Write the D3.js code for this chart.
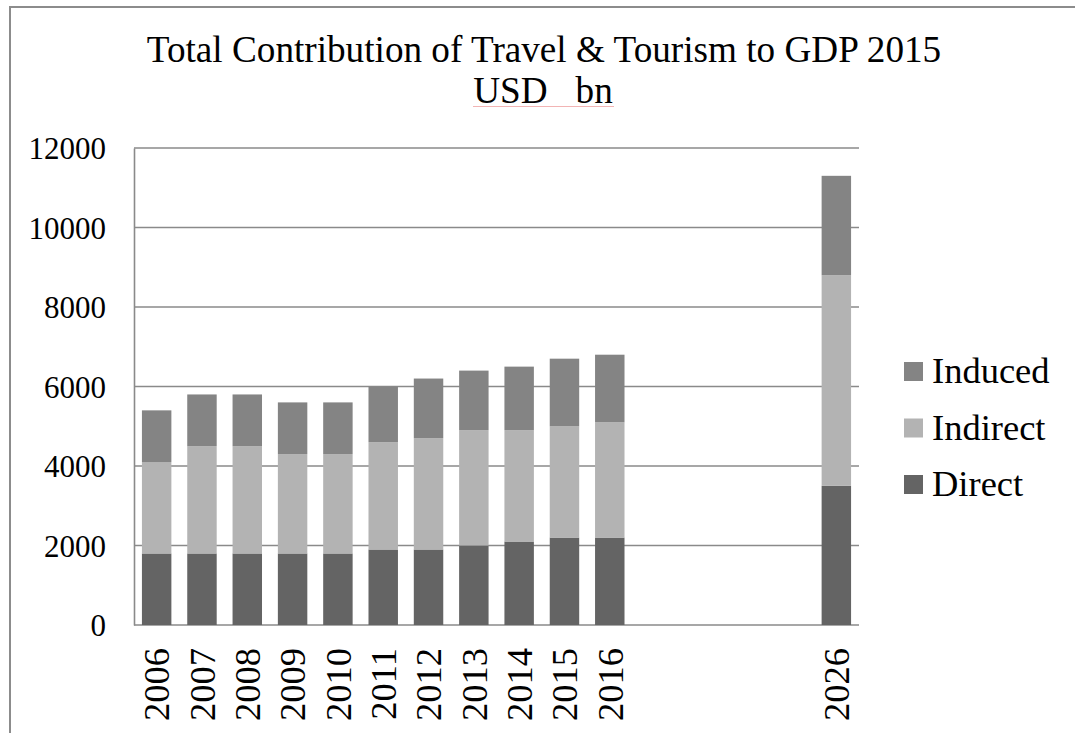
<!DOCTYPE html>
<html>
<head>
<meta charset="utf-8">
<script src="https://cdn.jsdelivr.net/npm/d3@7"></script>
<style>
  html, body { margin: 0; padding: 0; background: #fff; overflow: hidden; }
  svg { display: block; }
  svg text { font-family: "Liberation Serif"; }
</style>
</head>
<body>
<svg id="chart" width="1075" height="733"></svg>
<script>
// Travel & Tourism contribution to GDP, USD bn
const categories = ["2006", "2007", "2008", "2009", "2010", "2011", "2012", "2013", "2014", "2015", "2016", "2026"];
const direct   = [1800, 1800, 1800, 1800, 1800, 1900, 1900, 2000, 2100, 2200, 2200, 3500];
const indirect = [2300, 2700, 2700, 2500, 2500, 2700, 2800, 2900, 2800, 2800, 2900, 5300];
const induced  = [1300, 1300, 1300, 1300, 1300, 1400, 1500, 1500, 1600, 1700, 1700, 2500];
const seriesNames = ["Direct", "Indirect", "Induced"];
const seriesColors = ["#646464", "#b3b3b3", "#848484"];
const yTicks = [0, 2000, 4000, 6000, 8000, 10000, 12000];

const FONT = '"Liberation Serif"';

// empty slots between the historical years and the forecast year
const slots = categories.slice(0, 11).concat(["gap1", "gap2", "gap3", "gap4"], categories.slice(11));

const rows = categories.map((c, i) => ({ cat: c, Direct: direct[i], Indirect: indirect[i], Induced: induced[i] }));
const stacked = d3.stack().keys(seriesNames)(rows);

const svg = d3.select("#chart");
const plot = { left: 134, right: 859, top: 148, bottom: 625 };

const x = d3.scaleBand().domain(slots).range([plot.left, plot.right]).paddingInner(0.35).paddingOuter(0.175);
const y = d3.scaleLinear().domain([0, 12000]).range([plot.bottom, plot.top]);
const color = d3.scaleOrdinal().domain(seriesNames).range(seriesColors);

// outer frame
svg.append("rect")
  .attr("x", 10).attr("y", 7).attr("width", 1200).attr("height", 900)
  .attr("fill", "none").attr("stroke", "#8c8c8c").attr("stroke-width", 2);

// title
const title = svg.append("text")
  .attr("text-anchor", "middle").attr("font-size", 37.2).attr("fill", "#000")
  .style("font-family", FONT);
title.append("tspan").attr("x", 544).attr("y", 62).text("Total Contribution of Travel & Tourism to GDP 2015");
title.append("tspan").attr("x", 543).attr("y", 103).style("white-space", "pre").text("USD   bn");
svg.append("line")
  .attr("x1", 473).attr("x2", 614).attr("y1", 106.5).attr("y2", 106.5)
  .attr("stroke", "#f2b4b4").attr("stroke-width", 1);

// gridlines
svg.append("g")
  .selectAll("line")
  .data(yTicks)
  .join("line")
  .attr("x1", plot.left).attr("x2", plot.right)
  .attr("y1", d => y(d)).attr("y2", d => y(d))
  .attr("stroke", "#8a8a8a").attr("stroke-width", 1.6);

// y axis
const yAxis = svg.append("g")
  .attr("transform", `translate(${plot.left},0)`)
  .call(d3.axisLeft(y).tickValues(yTicks).tickSize(0).tickPadding(28).tickFormat(d3.format("d")));
yAxis.attr("font-family", null).attr("font-size", null);
yAxis.select(".domain").attr("stroke", "#8a8a8a").attr("stroke-width", 1.6);
yAxis.selectAll("text")
  .attr("font-size", 31).style("font-family", FONT)
  .attr("fill", "#000").attr("dy", "0.35em");

// stacked bars
svg.append("g")
  .selectAll("g")
  .data(stacked)
  .join("g")
  .attr("fill", d => color(d.key))
  .selectAll("rect")
  .data(d => d)
  .join("rect")
  .attr("x", d => x(d.data.cat))
  .attr("width", x.bandwidth())
  .attr("y", d => y(d[1]))
  .attr("height", d => y(d[0]) - y(d[1]));

// x axis
const xAxis = svg.append("g")
  .attr("transform", `translate(0,${plot.bottom})`)
  .call(d3.axisBottom(x).tickValues(categories).tickSize(0).tickPadding(0));
xAxis.attr("font-family", null).attr("font-size", null);
xAxis.select(".domain").remove();
xAxis.selectAll("text")
  .attr("font-size", 36.5).style("font-family", FONT)
  .attr("fill", "#000")
  .attr("text-anchor", "end")
  .attr("transform", "rotate(-90)")
  .attr("x", -23).attr("y", 0).attr("dy", "0.35em");

// legend, top entry is the top segment
const legendItems = seriesNames.slice().reverse();
const legend = svg.append("g")
  .selectAll("g")
  .data(legendItems)
  .join("g")
  .attr("transform", (d, i) => `translate(904,${362 + i * 56.5})`);
legend.append("rect")
  .attr("width", 19).attr("height", 19)
  .attr("fill", d => color(d));
legend.append("text")
  .attr("x", 28).attr("y", 21)
  .attr("font-size", 36.5).attr("fill", "#000")
  .style("font-family", FONT)
  .text(d => d);
</script>
</body>
</html>
